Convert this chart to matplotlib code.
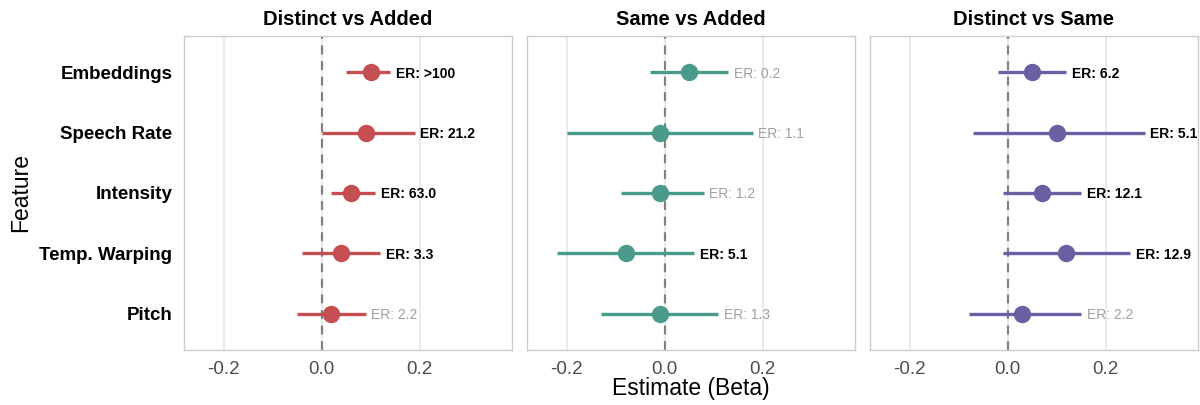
import matplotlib
matplotlib.use("Agg")
import matplotlib.pyplot as plt

plt.rcParams.update({
    "font.family": ["Liberation Sans", "DejaVu Sans"],
})

# ── data ────────────────────────────────────────────────────────────────────
features = ["Embeddings", "Speech Rate", "Intensity", "Temp. Warping", "Pitch"]
panels = ["Distinct vs Added", "Same vs Added", "Distinct vs Same"]
colors = ["#C44E52", "#4A9B8B", "#6A5FA3"]

est = [
    [0.10, 0.09, 0.06, 0.04, 0.02],
    [0.05, -0.01, -0.01, -0.08, -0.01],
    [0.05, 0.10, 0.07, 0.12, 0.03],
]
lo = [
    [0.05, 0.00, 0.02, -0.04, -0.05],
    [-0.03, -0.20, -0.09, -0.22, -0.13],
    [-0.02, -0.07, -0.01, -0.01, -0.08],
]
hi = [
    [0.14, 0.19, 0.11, 0.12, 0.09],
    [0.13, 0.18, 0.08, 0.06, 0.11],
    [0.12, 0.28, 0.15, 0.25, 0.15],
]
er_labels = [
    [">100", "21.2", "63.0", "3.3", "2.2"],
    ["0.2", "1.1", "1.2", "5.1", "1.3"],
    ["6.2", "5.1", "12.1", "12.9", "2.2"],
]
er_strong = [
    [True, True, True, True, False],
    [False, False, False, True, False],
    [True, True, True, True, False],
]

fig, axes = plt.subplots(1, 3, figsize=(12, 4.05), dpi=100, sharey=True)
fig.subplots_adjust(left=0.153, right=0.998, top=0.911, bottom=0.136, wspace=0.046)

ypos = list(range(len(features)))[::-1]

for k, ax in enumerate(axes):
    for i, y in enumerate(ypos):
        ax.plot([lo[k][i], hi[k][i]], [y, y], color=colors[k], lw=2.4,
                solid_capstyle="butt", zorder=3)
        ax.plot(est[k][i], y, "o", color=colors[k], ms=11.5, zorder=4)
        if er_strong[k][i]:
            ax.annotate(f"ER: {er_labels[k][i]}", (hi[k][i], y), xytext=(4, 0),
                        textcoords="offset points", va="center_baseline", ha="left",
                        fontsize=10, fontweight="bold", color="black")
        else:
            ax.annotate(f"ER: {er_labels[k][i]}", (hi[k][i], y), xytext=(4, 0),
                        textcoords="offset points", va="center_baseline", ha="left",
                        fontsize=10, color="#A0A0A0")
    ax.axvline(0, color="#808080", ls=(0, (4, 3)), lw=1.6, zorder=2)
    ax.set_xlim(-0.282, 0.388)
    ax.set_ylim(-0.6, 4.6)
    ax.set_xticks([-0.2, 0.0, 0.2])
    ax.set_xticklabels(["-0.2", "0.0", "0.2"])
    ax.grid(axis="x", color="#E6E6E6", lw=1.2, zorder=0)
    ax.set_axisbelow(True)
    ax.tick_params(axis="x", length=0, labelsize=13.5, labelcolor="#4D4D4D", pad=8)
    ax.tick_params(axis="y", length=0, labelsize=13.5, pad=8)
    for s in ax.spines.values():
        s.set_color("#CCCCCC")
        s.set_linewidth(1.0)
    ax.set_title(panels[k], fontsize=14.5, fontweight="bold", pad=8)

axes[0].set_yticks(ypos)
axes[0].set_yticklabels(features, fontweight="bold")
axes[0].set_ylabel("Feature", fontsize=16.5, labelpad=5)
axes[1].set_xlabel("Estimate (Beta)", fontsize=16.5, labelpad=-1)

plt.savefig("out.png", dpi=100)
plt.close()
